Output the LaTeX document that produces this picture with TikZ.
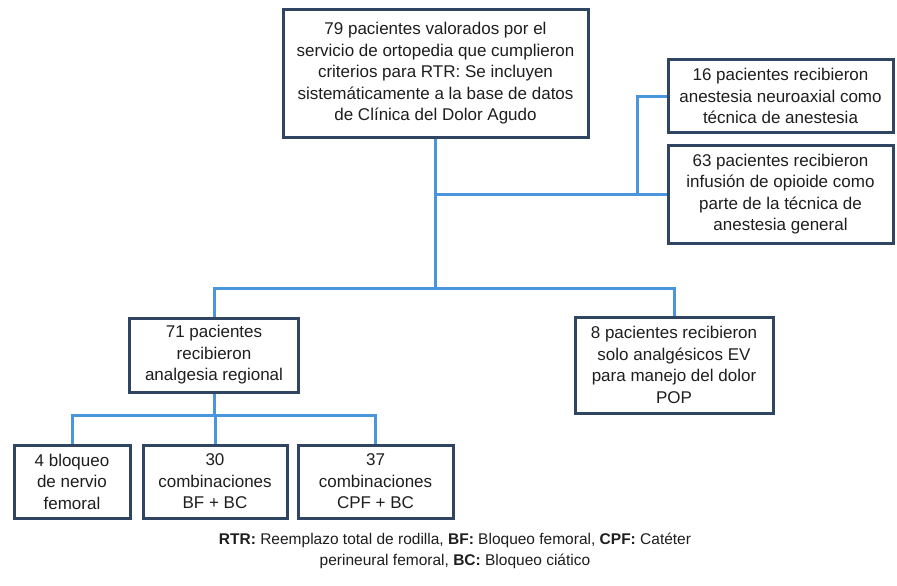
\documentclass[tikz,border=0pt]{standalone}
\usepackage{fontspec}
\setmainfont{Liberation Sans}
\definecolor{boxline}{HTML}{2F4562}
\definecolor{connline}{HTML}{4A96DC}
\definecolor{txt}{HTML}{1E1E1E}
\begin{document}
\begin{tikzpicture}[x=1pt,y=-1pt,
  box/.style={draw=boxline, line width=3pt, fill=white, rectangle, inner sep=0pt,
    align=center, text=txt, font=\fontsize{17}{21.5}\selectfont},
  conn/.style={draw=connline, line width=3pt}]
\useasboundingbox (0,0) rectangle (897,586);
\fill[white] (0,0) rectangle (897,586);

\node[box, minimum width=305pt, minimum height=127pt] (top) at (435.5,73.5)
 {79 pacientes valorados por el\\servicio de ortopedia que cumplieron\\criterios para RTR: Se incluyen\\sistemáticamente a la base de datos\\de Clínica del Dolor Agudo};
\node[box, minimum width=225pt, minimum height=73pt] (r1) at (780.5,96)
 {16 pacientes recibieron\\anestesia neuroaxial como\\técnica de anestesia};
\node[box, minimum width=225pt, minimum height=98pt] (r2) at (780.5,194)
 {63 pacientes recibieron\\infusión de opioide como\\parte de la técnica de\\anestesia general};
\node[box, minimum width=169pt, minimum height=74pt] (reg) at (214,355)
 {71 pacientes\\recibieron\\analgesia regional};
\node[box, minimum width=198pt, minimum height=96pt] (ev) at (674,365)
 {8 pacientes recibieron\\solo analgésicos EV\\para manejo del dolor\\POP};
\node[box, minimum width=116pt, minimum height=73pt] (ba) at (72,481.5)
 {4 bloqueo\\de nervio\\femoral};
\node[box, minimum width=144pt, minimum height=73pt] (bb) at (215,481.5)
 {30\\combinaciones\\BF + BC};
\node[box, minimum width=155pt, minimum height=73pt] (bc) at (375.5,481.5)
 {37\\combinaciones\\CPF + BC};

\coordinate (sp) at (637,0);
\coordinate (h1) at (0,288);
\coordinate (h2) at (0,415);

\draw[conn] (top.south) -- (top.south |- h1);
\draw[conn] (top.south |- r2.west) -- (r2.west);
\draw[conn] (r1.west) -- (r1.west -| sp) -- (r2.west -| sp);
\draw[conn] (reg.north) -- (reg.north |- h1) -- (ev.north |- h1) -- (ev.north);
\draw[conn] (reg.south) -- (reg.south |- h2);
\draw[conn] (ba.north) -- (ba.north |- h2) -- (bc.north |- h2) -- (bc.north);
\draw[conn] (bb.north) -- (bb.north |- h2);

\node[align=center, text=txt, font=\fontsize{15.5}{21}\selectfont] (cap) at (455,551)
 {\textbf{RTR:} Reemplazo total de rodilla, \textbf{BF:} Bloqueo femoral, \textbf{CPF:} Catéter\\perineural femoral, \textbf{BC:} Bloqueo ciático};
\end{tikzpicture}
\end{document}
